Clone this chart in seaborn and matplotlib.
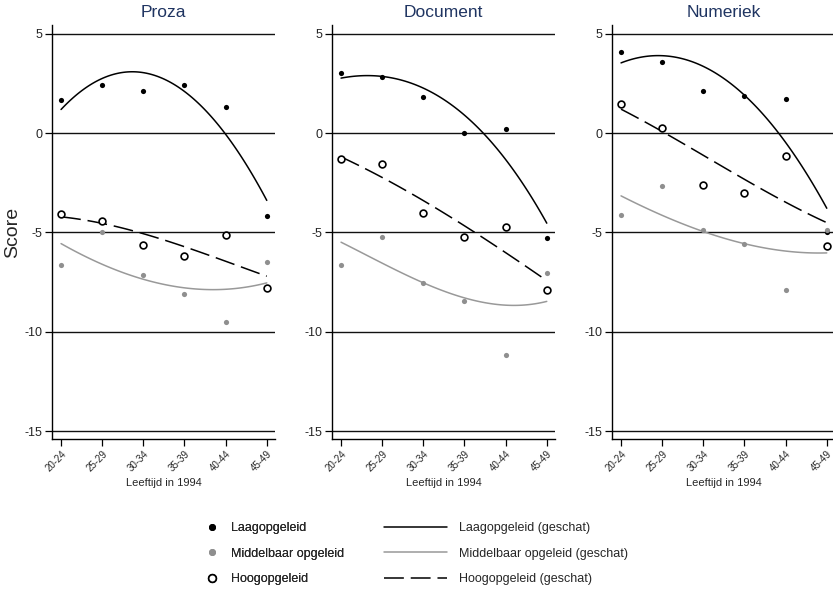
import numpy as np
import pandas as pd
import seaborn as sns
import matplotlib
matplotlib.use('Agg')
import matplotlib.pyplot as plt
from matplotlib.lines import Line2D

# leeftijdsgroepen en toetsen
leeftijd = ['20-24', '25-29', '30-34', '35-39', '40-44', '45-49']
toetsen = ['Proza', 'Document', 'Numeriek']
groepen = ['Laagopgeleid', 'Middelbaar opgeleid', 'Hoogopgeleid']

# waargenomen scores
proza_laag = [1.65, 2.44, 2.14, 2.44, 1.31, -4.18]
proza_midden = [-6.62, -4.97, -7.15, -8.08, -9.53, -6.48]
proza_hoog = [-4.09, -4.41, -5.61, -6.18, -5.15, -7.78]
document_laag = [3.03, 2.81, 1.80, 0.00, 0.20, -5.30]
document_midden = [-6.62, -5.22, -7.53, -8.45, -11.15, -7.04]
document_hoog = [-1.31, -1.55, -4.04, -5.25, -4.73, -7.88]
numeriek_laag = [4.09, 3.59, 2.14, 1.85, 1.73, -4.97]
numeriek_midden = [-4.12, -2.66, -4.88, -5.57, -7.91, -4.85]
numeriek_hoog = [1.48, 0.25, -2.61, -3.00, -1.13, -5.67]

proza_laag_fit = [1.18, 2.78, 3.11, 1.94, 0.08, -3.42]
proza_midden_fit = [-5.56, -6.60, -7.35, -7.80, -7.85, -7.54]
proza_hoog_fit = [-4.21, -4.55, -5.05, -5.72, -6.45, -7.20]
document_laag_fit = [2.78, 2.86, 2.22, 1.01, -1.40, -4.51]
document_midden_fit = [-5.47, -6.60, -7.50, -8.25, -8.72, -8.45]
document_hoog_fit = [-1.18, -2.27, -3.37, -4.63, -6.06, -7.41]
numeriek_laag_fit = [3.54, 3.90, 3.40, 1.85, -0.42, -3.79]
numeriek_midden_fit = [-3.16, -4.12, -4.97, -5.56, -5.93, -6.03]
numeriek_hoog_fit = [1.21, 0.08, -1.09, -2.36, -3.45, -4.51]

waarden = {
    'Proza': [proza_laag, proza_midden, proza_hoog],
    'Document': [document_laag, document_midden, document_hoog],
    'Numeriek': [numeriek_laag, numeriek_midden, numeriek_hoog],
}
geschat = {
    'Proza': [proza_laag_fit, proza_midden_fit, proza_hoog_fit],
    'Document': [document_laag_fit, document_midden_fit, document_hoog_fit],
    'Numeriek': [numeriek_laag_fit, numeriek_midden_fit, numeriek_hoog_fit],
}

sns.set_style('white')
plt.rcParams['font.family'] = ['Liberation Sans', 'DejaVu Sans']
plt.rcParams['axes.unicode_minus'] = False

grijs = '#8f8f8f'
punt_stijl = [
    dict(color='black', s=14, linewidth=0),
    dict(color=grijs, s=14, linewidth=0),
    dict(color='white', edgecolor='black', s=24, linewidth=1.2),
]
lijn_stijl = [
    dict(color='black', lw=1.1),
    dict(color='#999999', lw=1.1),
    dict(color='black', lw=1.1, dashes=(13, 4.5)),
]

W, H = 833, 590
fig = plt.figure(figsize=(W / 100, H / 100), dpi=100)
lefts = [52, 332, 612]

for i, toets in enumerate(toetsen):
    ax = fig.add_axes([lefts[i] / W, 151 / H, 223 / W, 414 / H])
    for g in range(3):
        df = pd.DataFrame({'pos': np.arange(len(leeftijd)),
                           'score': waarden[toets][g],
                           'fit': geschat[toets][g]})
        sns.regplot(data=df, x='pos', y='fit', order=3, ci=None,
                    scatter=False, ax=ax, line_kws=lijn_stijl[g])
        sns.scatterplot(data=df, x='pos', y='score', ax=ax, zorder=3,
                        **punt_stijl[g])
    ax.set_xlim(-0.22, 5.2)
    ax.set_ylim(-15.4, 5.45)
    ax.set_yticks([5, 0, -5, -10, -15])
    ax.set_yticklabels(['5', '0', '-5', '-10', '-15'], fontsize=9)
    ax.set_xticks(range(len(leeftijd)))
    ax.set_xticklabels(leeftijd, rotation=45, ha='right',
                       rotation_mode='anchor', fontsize=7)
    ax.yaxis.grid(True, color='#111111', lw=1.0)
    ax.set_axisbelow(True)
    for s in ['top', 'right']:
        ax.spines[s].set_visible(False)
    for s in ['left', 'bottom']:
        ax.spines[s].set_color('black')
        ax.spines[s].set_linewidth(1.0)
    ax.tick_params(axis='both', direction='out', length=5, width=0.9,
                   color='black', left=True, bottom=True, pad=2)
    ax.set_title(toets, fontsize=12.5, color='#1f3461', pad=6)
    ax.set_xlabel('Leeftijd in 1994', fontsize=8, labelpad=3)
    if i == 0:
        ax.set_ylabel('Score', fontsize=14, labelpad=2)
    else:
        ax.set_ylabel('')

punt_handles = [
    Line2D([], [], ls='none', marker='o', ms=4, color='black'),
    Line2D([], [], ls='none', marker='o', ms=4, color=grijs),
    Line2D([], [], ls='none', marker='o', ms=5.5, mfc='white', mec='black', mew=1.2),
]
lijn_handles = [Line2D([], [], **lijn_stijl[g]) for g in range(3)]

leg1 = fig.legend(punt_handles, groepen, loc='upper left',
                  bbox_to_anchor=(206 / W, 1 - 522 / H), frameon=False,
                  fontsize=9, handlelength=1.0, handletextpad=1.0,
                  labelspacing=1.08, borderpad=0, borderaxespad=0)
leg2 = fig.legend(lijn_handles, [g + ' (geschat)' for g in groepen],
                  loc='upper left', bbox_to_anchor=(384 / W, 1 - 522 / H),
                  frameon=False, fontsize=9, handlelength=5.0,
                  handletextpad=1.0, labelspacing=1.08, borderpad=0,
                  borderaxespad=0)
fig.add_artist(leg1)

fig.savefig('out.png', dpi=100)
